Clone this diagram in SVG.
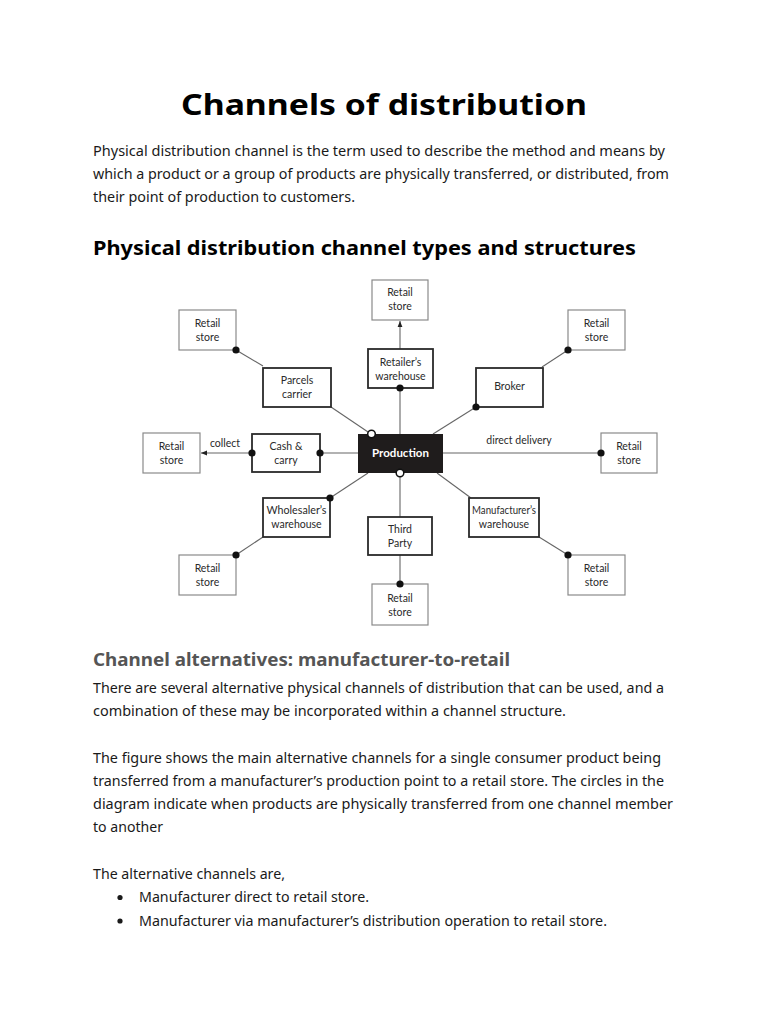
<svg xmlns="http://www.w3.org/2000/svg" width="768" height="1024" viewBox="0 0 768 1024">
<style>
.t{font-family:"Noto Sans","Open Sans","Liberation Sans",sans-serif;fill:#1a1a1a}
.b{font-size:14px}
.h1{font-size:29px;font-weight:700;fill:#000}
.h2{font-size:20px;font-weight:700;fill:#000}
.h3{font-size:18px;font-weight:700;fill:#555}
.d{font-family:Lato,"Open Sans","Liberation Sans",sans-serif;font-size:10.5px;fill:#2a2a2a;text-anchor:middle}
.rs{fill:#fff;stroke:#8a8a8a;stroke-width:1.2}
.im{fill:#fff;stroke:#2a2a2a;stroke-width:1.8}
.ln{stroke:#666;stroke-width:1.1;fill:none}
.dot{fill:#111}
.oc{fill:#fff;stroke:#111;stroke-width:1.5}
</style>
<defs>
<marker id="ah" viewBox="0 0 10 10" refX="10" refY="5" markerWidth="6" markerHeight="6" orient="auto-start-reverse" markerUnits="userSpaceOnUse">
<path d="M0,1 L10,5 L0,9 Z" fill="#222"/>
</marker>
</defs>
<rect width="768" height="1024" fill="#fff"/>

<text class="t h1" x="181" y="115" textLength="406" lengthAdjust="spacingAndGlyphs">Channels of distribution</text>
<text class="t b" x="93" y="156" textLength="572" lengthAdjust="spacingAndGlyphs">Physical distribution channel is the term used to describe the method and means by</text>
<text class="t b" x="93" y="179" textLength="576" lengthAdjust="spacingAndGlyphs">which a product or a group of products are physically transferred, or distributed, from</text>
<text class="t b" x="93" y="202" textLength="262" lengthAdjust="spacingAndGlyphs">their point of production to customers.</text>
<text class="t h2" x="93" y="255" textLength="543" lengthAdjust="spacingAndGlyphs">Physical distribution channel types and structures</text>

<g id="connectors">
<line class="ln" x1="400" y1="434" x2="400" y2="388"/>
<line class="ln" x1="400" y1="349" x2="400" y2="321" marker-end="url(#ah)"/>
<line class="ln" x1="433" y1="434" x2="476" y2="407"/>
<line class="ln" x1="542" y1="367" x2="568" y2="350"/>
<line class="ln" x1="443" y1="453" x2="601" y2="453"/>
<line class="ln" x1="437" y1="473" x2="471" y2="498"/>
<line class="ln" x1="539" y1="537" x2="568" y2="555"/>
<line class="ln" x1="400" y1="473" x2="400" y2="517"/>
<line class="ln" x1="400" y1="555" x2="400" y2="584"/>
<line class="ln" x1="368" y1="473" x2="330" y2="498"/>
<line class="ln" x1="263" y1="537" x2="236" y2="555"/>
<line class="ln" x1="358" y1="453" x2="320" y2="453"/>
<line class="ln" x1="252" y1="453" x2="201" y2="453" marker-end="url(#ah)"/>
<line class="ln" x1="371" y1="434" x2="331" y2="407"/>
<line class="ln" x1="263" y1="366" x2="236" y2="350"/>
<text class="d" x="225" y="446.5">collect</text>
<text class="d" x="519" y="444">direct delivery</text>
</g>

<g id="production">
<rect x="358" y="434" width="85" height="39" fill="#1f1c1c"/>
<text x="400.5" y="457" text-anchor="middle" font-family="Lato,'Open Sans','Liberation Sans',sans-serif" font-size="11.5" font-weight="700" fill="#fff">Production</text>
</g>

<g id="retail-top"><rect class="rs" x="372" y="280" width="56" height="40"/><text class="d" x="400" y="296">Retail</text><text class="d" x="400" y="310">store</text></g>
<g id="retailers-warehouse"><rect class="im" x="368" y="349" width="65" height="39"/><text class="d" x="400.5" y="366">Retailer’s</text><text class="d" x="400.5" y="379.5">warehouse</text></g>
<g id="retail-topleft"><rect class="rs" x="179" y="310" width="57" height="40"/><text class="d" x="207.5" y="327">Retail</text><text class="d" x="207.5" y="341">store</text></g>
<g id="parcels-carrier"><rect class="im" x="263" y="368" width="68" height="39"/><text class="d" x="297" y="384">Parcels</text><text class="d" x="297" y="398">carrier</text></g>
<g id="broker"><rect class="im" x="476" y="368" width="67" height="39"/><text class="d" x="509.5" y="389.5">Broker</text></g>
<g id="retail-topright"><rect class="rs" x="568" y="310" width="57" height="40"/><text class="d" x="596.5" y="327">Retail</text><text class="d" x="596.5" y="341">store</text></g>
<g id="retail-left"><rect class="rs" x="143" y="433" width="57" height="40"/><text class="d" x="171.5" y="449.5">Retail</text><text class="d" x="171.5" y="464">store</text></g>
<g id="cash-carry"><rect class="im" x="252" y="434" width="68" height="38"/><text class="d" x="286" y="449.5">Cash &amp;</text><text class="d" x="286" y="464">carry</text></g>
<g id="retail-right"><rect class="rs" x="601" y="433" width="56" height="40"/><text class="d" x="629" y="449.5">Retail</text><text class="d" x="629" y="464">store</text></g>
<g id="wholesalers-warehouse"><rect class="im" x="263" y="498" width="67" height="39"/><text class="d" x="296.5" y="513.5" textLength="60" lengthAdjust="spacingAndGlyphs">Wholesaler’s</text><text class="d" x="296.5" y="527.5">warehouse</text></g>
<g id="manufacturers-warehouse"><rect class="im" x="469" y="498" width="70" height="39"/><text class="d" x="504" y="513.5" textLength="64" lengthAdjust="spacingAndGlyphs">Manufacturer’s</text><text class="d" x="504" y="527.5">warehouse</text></g>
<g id="third-party"><rect class="im" x="368" y="517" width="64" height="38"/><text class="d" x="400" y="532.5">Third</text><text class="d" x="400" y="546.5">Party</text></g>
<g id="retail-bottomleft"><rect class="rs" x="179" y="555" width="57" height="40"/><text class="d" x="207.5" y="571.5">Retail</text><text class="d" x="207.5" y="586">store</text></g>
<g id="retail-bottomright"><rect class="rs" x="568" y="555" width="57" height="40"/><text class="d" x="596.5" y="571.5">Retail</text><text class="d" x="596.5" y="586">store</text></g>
<g id="retail-bottom"><rect class="rs" x="372" y="584" width="56" height="41"/><text class="d" x="400" y="602">Retail</text><text class="d" x="400" y="616">store</text></g>

<g id="transfer-points">
<circle class="dot" cx="400" cy="388" r="3.6"/>
<circle class="dot" cx="476" cy="407" r="3.6"/>
<circle class="dot" cx="568" cy="350" r="3.6"/>
<circle class="dot" cx="601" cy="453" r="3.6"/>
<circle class="dot" cx="568" cy="555" r="3.6"/>
<circle class="dot" cx="400" cy="584" r="3.6"/>
<circle class="dot" cx="330" cy="498" r="3.6"/>
<circle class="dot" cx="236" cy="555" r="3.6"/>
<circle class="dot" cx="320" cy="453" r="3.6"/>
<circle class="dot" cx="252" cy="453" r="3.6"/>
<circle class="dot" cx="236" cy="350" r="3.6"/>
<circle class="oc" cx="371.5" cy="434" r="3.8"/>
<circle class="oc" cx="400" cy="473" r="3.8"/>
</g>

<text class="t h3" x="93" y="666" textLength="417" lengthAdjust="spacingAndGlyphs">Channel alternatives: manufacturer-to-retail</text>
<text class="t b" x="93" y="693" textLength="571" lengthAdjust="spacingAndGlyphs">There are several alternative physical channels of distribution that can be used, and a</text>
<text class="t b" x="93" y="716" textLength="473" lengthAdjust="spacingAndGlyphs">combination of these may be incorporated within a channel structure.</text>
<text class="t b" x="93" y="763" textLength="568" lengthAdjust="spacingAndGlyphs">The figure shows the main alternative channels for a single consumer product being</text>
<text class="t b" x="93" y="786" textLength="571" lengthAdjust="spacingAndGlyphs">transferred from a manufacturer’s production point to a retail store. The circles in the</text>
<text class="t b" x="93" y="809" textLength="580" lengthAdjust="spacingAndGlyphs">diagram indicate when products are physically transferred from one channel member</text>
<text class="t b" x="93" y="832" textLength="70" lengthAdjust="spacingAndGlyphs">to another</text>
<text class="t b" x="93" y="879" textLength="192" lengthAdjust="spacingAndGlyphs">The alternative channels are,</text>
<circle cx="120" cy="897.5" r="2.6" fill="#1a1a1a"/>
<text class="t b" x="139" y="902" textLength="230" lengthAdjust="spacingAndGlyphs">Manufacturer direct to retail store.</text>
<circle cx="120" cy="921" r="2.6" fill="#1a1a1a"/>
<text class="t b" x="139" y="925.5" textLength="468" lengthAdjust="spacingAndGlyphs">Manufacturer via manufacturer’s distribution operation to retail store.</text>
</svg>
